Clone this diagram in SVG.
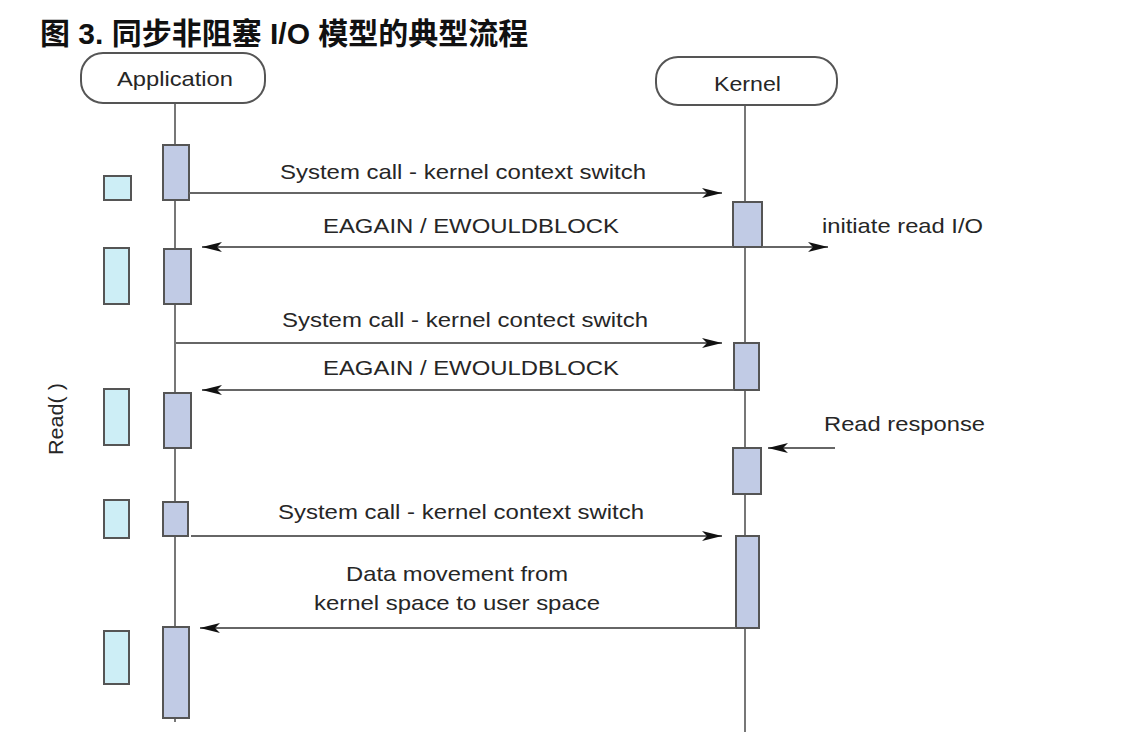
<svg xmlns="http://www.w3.org/2000/svg" width="1144" height="740" viewBox="0 0 1144 740">
<defs>
<style>
.t{font-family:"Liberation Sans",Arial,sans-serif;font-size:21px;fill:#262626}
.title{font-family:"Liberation Sans","Noto Sans CJK SC",sans-serif;font-size:30px;font-weight:bold;fill:#111}
.life{stroke:#777;stroke-width:2;fill:none}
.hdr{fill:#fff;stroke:#555;stroke-width:2}
.act{fill:#c1cbe5;stroke:#555;stroke-width:2}
.lt{fill:#cdeef6;stroke:#555;stroke-width:2}
.msg{stroke:#666;stroke-width:2;fill:none}
</style>
<marker id="ah" viewBox="0 0 20 10" refX="20" refY="5" markerWidth="20" markerHeight="10" markerUnits="userSpaceOnUse" orient="auto">
<path d="M0,0 L20,5 L0,10 L5,5 Z" fill="#111"/>
</marker>
</defs>
<rect width="1144" height="740" fill="#fff"/>
<text class="title" x="40" y="44">图 3. 同步非阻塞 I/O 模型的典型流程</text>

<g id="application">
<line class="life" x1="175" y1="103" x2="175" y2="722"/>
<rect class="hdr" x="81" y="53" width="184" height="50" rx="22"/>
<text class="t" x="117" y="86" textLength="116" lengthAdjust="spacingAndGlyphs">Application</text>
</g>
<g id="kernel">
<line class="life" x1="745" y1="105" x2="745" y2="732"/>
<rect class="hdr" x="656" y="57" width="181" height="48" rx="22"/>
<text class="t" x="714" y="91" textLength="67" lengthAdjust="spacingAndGlyphs">Kernel</text>
</g>

<g id="app-activations">
<rect class="act" x="163" y="145" width="26" height="55"/>
<rect class="act" x="164" y="249" width="27" height="55"/>
<rect class="act" x="164" y="393" width="27" height="55"/>
<rect class="act" x="163" y="502" width="25" height="34"/>
<rect class="act" x="163" y="627" width="26" height="91"/>
</g>
<g id="app-waits">
<rect class="lt" x="104" y="176" width="27" height="24"/>
<rect class="lt" x="104" y="248" width="25" height="56"/>
<rect class="lt" x="104" y="389" width="25" height="56"/>
<rect class="lt" x="104" y="500" width="25" height="38"/>
<rect class="lt" x="104" y="631" width="25" height="53"/>
</g>
<g id="kernel-activations">
<rect class="act" x="733" y="202" width="29" height="45"/>
<rect class="act" x="734" y="343" width="25" height="47"/>
<rect class="act" x="733" y="448" width="28" height="46"/>
<rect class="act" x="736" y="536" width="23" height="92"/>
</g>

<g id="connectors">
<line class="msg" x1="189" y1="193" x2="722" y2="193" marker-end="url(#ah)"/>
<line class="msg" x1="733" y1="247" x2="202" y2="247" marker-end="url(#ah)"/>
<line class="msg" x1="762" y1="247" x2="828" y2="247" marker-end="url(#ah)"/>
<line class="msg" x1="176" y1="343" x2="722" y2="343" marker-end="url(#ah)"/>
<line class="msg" x1="734" y1="390" x2="202" y2="390" marker-end="url(#ah)"/>
<line class="msg" x1="835" y1="448" x2="768" y2="448" marker-end="url(#ah)"/>
<line class="msg" x1="191" y1="536" x2="722" y2="536" marker-end="url(#ah)"/>
<line class="msg" x1="736" y1="628" x2="200" y2="628" marker-end="url(#ah)"/>
</g>

<g id="labels">
<text class="t" x="280" y="179" textLength="366" lengthAdjust="spacingAndGlyphs">System call - kernel context switch</text>
<text class="t" x="323" y="233" textLength="296" lengthAdjust="spacingAndGlyphs">EAGAIN / EWOULDBLOCK</text>
<text class="t" x="822" y="233" textLength="161" lengthAdjust="spacingAndGlyphs">initiate read I/O</text>
<text class="t" x="282" y="327" textLength="366" lengthAdjust="spacingAndGlyphs">System call - kernel contect switch</text>
<text class="t" x="323" y="375" textLength="296" lengthAdjust="spacingAndGlyphs">EAGAIN / EWOULDBLOCK</text>
<text class="t" x="824" y="431" textLength="161" lengthAdjust="spacingAndGlyphs">Read response</text>
<text class="t" x="278" y="519" textLength="366" lengthAdjust="spacingAndGlyphs">System call - kernel context switch</text>
<text class="t" x="346" y="581" textLength="222" lengthAdjust="spacingAndGlyphs">Data movement from</text>
<text class="t" x="314" y="610" textLength="286" lengthAdjust="spacingAndGlyphs">kernel space to user space</text>
<text class="t" transform="translate(63,455) rotate(-90)" textLength="72" lengthAdjust="spacingAndGlyphs">Read( )</text>
</g>
</svg>
